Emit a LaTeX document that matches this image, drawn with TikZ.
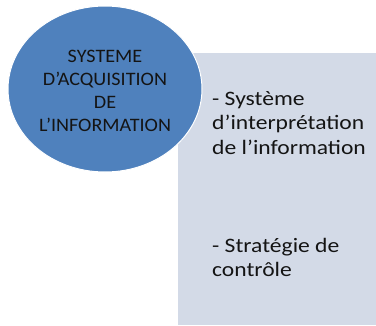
\documentclass[tikz,border=0pt]{standalone}
\usepackage{fontspec}
\setmainfont{Carlito}
\newfontfamily\widefont[FakeStretch=1.06]{Carlito}
\newfontfamily\widerfont[FakeStretch=1.15]{Carlito}
\usepackage{tikz}
\usetikzlibrary{shapes.geometric}
\usetikzlibrary{positioning}
\definecolor{ovalblue}{HTML}{4F81BD}
\definecolor{panelgray}{HTML}{D3DAE7}
\definecolor{inkgray}{HTML}{141414}
\tikzset{panel/.style={shape=rectangle, fill=panelgray, anchor=north west, inner sep=0pt}}
\tikzset{oval/.style={shape=ellipse, fill=ovalblue, draw=white, line width=1pt, inner sep=0pt}}
\tikzset{words/.style={text=inkgray, inner sep=0pt}}
\tikzset{sidewords/.style={words, align=left, anchor=north west, font=\widerfont\fontsize{20.5}{24.5}\selectfont}}

\begin{document}
\begin{tikzpicture}
		\useasboundingbox (0pt,0pt) rectangle (376pt,-325pt);
		\node[panel, minimum width=198pt, minimum height=272pt] (P) at (178pt,-53pt) {};
		\node[oval, minimum width=194pt, minimum height=166pt] (A) at (105pt,-89pt) {};
		\node[words, align=center, font=\widefont\fontsize{19}{23}\selectfont] (T) at (105pt,-91pt) {SYSTEME\\D’ACQUISITION\\DE\\L’INFORMATION};
		\node[sidewords] (S) at (212pt,-91pt) {- Système\\d’interprétation\\de l’information};
		\node[sidewords] (C) at (212pt,-238pt) {- Stratégie de\\contrôle};
	\end{tikzpicture}
\end{document}
